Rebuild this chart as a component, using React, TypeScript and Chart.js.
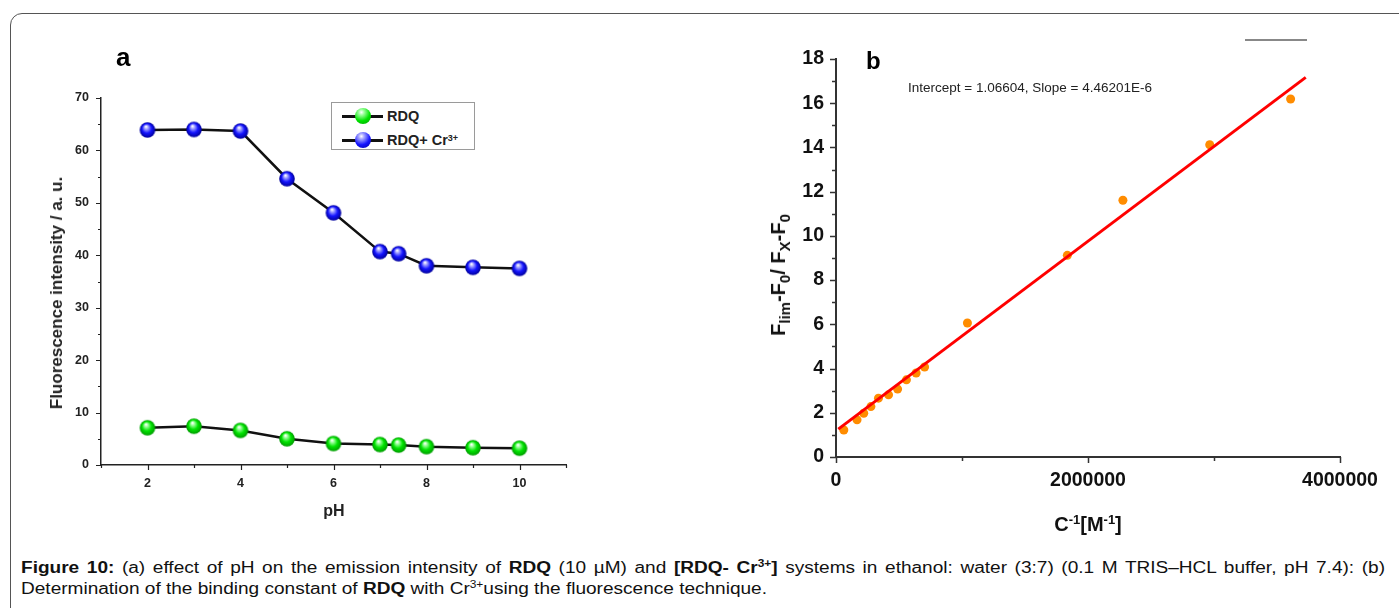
import React, { useEffect, useRef } from 'react';
import { Chart, registerables } from 'chart.js';

Chart.register(...registerables);

// ---------- Panel a data ----------
const phValues = [2, 3, 4, 5, 6, 7, 7.4, 8, 9, 10];
const rdqIntensity = [7.1, 7.4, 6.6, 5.0, 4.1, 3.9, 3.8, 3.5, 3.3, 3.2];
const rdqCrIntensity = [63.9, 64.0, 63.7, 54.6, 48.1, 40.7, 40.3, 38.0, 37.7, 37.5];
const phTickLabels = [2, 4, 6, 8, 10];
const intensityTickLabels = [0, 10, 20, 30, 40, 50, 60, 70];

// ---------- Panel b data ----------
const inverseConc = [62000, 167000, 220000, 277000, 337000, 417000, 489000, 559000, 636000, 703000, 1043000, 1836000, 2277000, 2966000, 3608000];
const fluorRatio = [1.22, 1.68, 1.98, 2.28, 2.66, 2.81, 3.07, 3.49, 3.80, 4.07, 6.06, 9.12, 11.61, 14.12, 16.19];
const fitLineX = [18000, 3728000];
const fitLineY = [1.26, 17.17];
const concTickLabels = [0, 2000000, 4000000];
const ratioTickLabels = [0, 2, 4, 6, 8, 10, 12, 14, 16, 18];

const SANS = "'Liberation Sans', Arial, sans-serif";

function makeBall(r: number, base: string, light: string, dark: string) {
  const c = document.createElement('canvas');
  const s = Math.ceil(r * 2) + 2;
  c.width = s;
  c.height = s;
  const g = c.getContext('2d')!;
  const cx = s / 2, cy = s / 2;
  const grad = g.createRadialGradient(cx - r * 0.2, cy - r * 0.45, r * 0.05, cx, cy, r);
  grad.addColorStop(0, '#ffffff');
  grad.addColorStop(0.2, light);
  grad.addColorStop(0.58, base);
  grad.addColorStop(1, dark);
  g.fillStyle = grad;
  g.beginPath();
  g.arc(cx, cy, r, 0, Math.PI * 2);
  g.fill();
  return c;
}

function makeTickPlugin(xMajor: number[], yMajor: number[], majorLen: number, minorLen: number, color: string, width: number) {
  return {
    id: 'axisTicks',
    afterDraw(chart: any) {
      const { ctx } = chart;
      const xs = chart.scales.x;
      const ys = chart.scales.y;
      ctx.save();
      ctx.strokeStyle = color;
      ctx.lineWidth = width;
      ctx.beginPath();
      xs.ticks.forEach((t: any) => {
        const p = Math.round(xs.getPixelForValue(t.value)) + 0.5;
        const len = xMajor.includes(t.value) ? majorLen : minorLen;
        ctx.moveTo(p, xs.top);
        ctx.lineTo(p, xs.top + len);
      });
      ys.ticks.forEach((t: any) => {
        const p = Math.round(ys.getPixelForValue(t.value)) + 0.5;
        const len = yMajor.includes(t.value) ? majorLen : minorLen;
        ctx.moveTo(ys.right, p);
        ctx.lineTo(ys.right - len, p);
      });
      ctx.stroke();
      ctx.restore();
    },
  };
}

const legendBall = (light: string, base: string, dark: string): React.CSSProperties => ({
  position: 'absolute',
  left: 23,
  top: -8,
  width: 16,
  height: 16,
  borderRadius: '50%',
  background: `radial-gradient(circle at 40% 27%, #ffffff 0%, ${light} 18%, ${base} 56%, ${dark} 100%)`,
});

export default function App() {
  const refA = useRef<HTMLCanvasElement>(null);
  const refB = useRef<HTMLCanvasElement>(null);

  useEffect(() => {
    const greenBall = makeBall(7.8, '#00e400', '#9dff9d', '#009a00');
    const blueBall = makeBall(7.8, '#1414ff', '#a8a8ff', '#00009a');

    const chartA = new Chart(refA.current!, {
      type: 'line',
      data: {
        datasets: [
          {
            label: 'RDQ',
            data: phValues.map((x, i) => ({ x, y: rdqIntensity[i] })),
            borderColor: '#111111',
            borderWidth: 2.5,
            pointStyle: greenBall as any,
            pointRadius: 8,
            tension: 0,
          },
          {
            label: 'RDQ+ Cr3+',
            data: phValues.map((x, i) => ({ x, y: rdqCrIntensity[i] })),
            borderColor: '#111111',
            borderWidth: 2.5,
            pointStyle: blueBall as any,
            pointRadius: 8,
            tension: 0,
          },
        ],
      },
      options: {
        responsive: false,
        animation: false,
        events: [],
        layout: { padding: { left: 40, top: 98, right: 134, bottom: 0 } },
        plugins: { legend: { display: false }, tooltip: { enabled: false } },
        scales: {
          x: {
            type: 'linear',
            min: 1,
            max: 11,
            grid: { display: false, drawTicks: false },
            border: { display: true, color: '#222222', width: 1.5 },
            ticks: {
              stepSize: 1,
              autoSkip: false,
              maxRotation: 0,
              padding: 11,
              color: '#222222',
              font: { family: SANS, size: 12.5, weight: 'bold' },
              callback: (v: any) => (phTickLabels.includes(Number(v)) ? String(v) : ''),
            },
            afterFit: (s: any) => {
              s.height = 75;
            },
          },
          y: {
            min: 0,
            max: 70,
            grid: { display: false, drawTicks: false },
            border: { display: true, color: '#222222', width: 1.5 },
            ticks: {
              stepSize: 5,
              autoSkip: false,
              padding: 12,
              color: '#222222',
              font: { family: SANS, size: 12.5, weight: 'bold' },
              callback: (v: any) => (intensityTickLabels.includes(Number(v)) ? String(v) : ''),
            },
            afterFit: (s: any) => {
              s.width = 61;
            },
          },
        },
      },
      plugins: [makeTickPlugin(phTickLabels, intensityTickLabels, 5, 3, '#222222', 1.2)],
    } as any);

    const chartB = new Chart(refB.current!, {
      type: 'scatter',
      data: {
        datasets: [
          {
            label: 'fit',
            type: 'line',
            data: fitLineX.map((x, i) => ({ x, y: fitLineY[i] })),
            borderColor: '#ff0000',
            borderWidth: 3,
            pointRadius: 0,
            tension: 0,
            order: 1,
          },
          {
            label: 'data',
            data: inverseConc.map((x, i) => ({ x, y: fluorRatio[i] })),
            backgroundColor: '#ff8c00',
            borderWidth: 0,
            pointRadius: 4.5,
            order: 2,
          },
        ],
      },
      options: {
        responsive: false,
        animation: false,
        events: [],
        layout: { padding: { left: 40, top: 59, right: 59, bottom: 0 } },
        plugins: { legend: { display: false }, tooltip: { enabled: false } },
        scales: {
          x: {
            type: 'linear',
            min: 0,
            max: 4000000,
            grid: { display: false, drawTicks: false },
            border: { display: true, color: '#333333', width: 2 },
            ticks: {
              stepSize: 1000000,
              autoSkip: false,
              maxRotation: 0,
              padding: 12,
              color: '#111111',
              font: { family: SANS, size: 19.5, weight: 'bold' },
              callback: (v: any) => (concTickLabels.includes(Number(v)) ? String(v) : ''),
            },
            afterFit: (s: any) => {
              s.height = 83;
            },
          },
          y: {
            min: 0,
            max: 18,
            grid: { display: false, drawTicks: false },
            border: { display: true, color: '#333333', width: 2 },
            ticks: {
              stepSize: 1,
              autoSkip: false,
              padding: 12,
              color: '#111111',
              font: { family: SANS, size: 19.5, weight: 'bold' },
              callback: (v: any) => (ratioTickLabels.includes(Number(v)) ? String(v) : ''),
            },
            afterFit: (s: any) => {
              s.width = 96;
            },
          },
        },
      },
      plugins: [makeTickPlugin(concTickLabels, ratioTickLabels, 6, 4, '#333333', 1.5)],
    } as any);

    return () => {
      chartA.destroy();
      chartB.destroy();
    };
  }, []);

  const abs = (s: React.CSSProperties): React.CSSProperties => ({ position: 'absolute', ...s });
  const CAP_SCALE = 1.19;
  const capSup: React.CSSProperties = { fontSize: 10, lineHeight: 0, verticalAlign: 'super' };

  return (
    <div style={{ position: 'fixed', left: 0, top: 0, width: 1399, height: 608, overflow: 'hidden', background: '#ffffff', fontFamily: SANS }}>
      <div style={abs({ left: 10, top: 13, width: 1440, height: 640, border: '1px solid #555', borderRadius: 12, boxSizing: 'border-box' })} />

      <canvas ref={refA} width={700} height={540} style={abs({ left: 0, top: 0, width: 700, height: 540 })} />
      <canvas ref={refB} width={699} height={540} style={abs({ left: 700, top: 0, width: 699, height: 540 })} />

      {/* panel a annotations */}
      <div style={abs({ left: 116, top: 42, fontWeight: 'bold', fontSize: 26, lineHeight: '30px', color: '#000' })}>a</div>
      <div
        style={abs({
          left: 57,
          top: 293,
          transform: 'translate(-50%, -50%) rotate(-90deg)',
          whiteSpace: 'nowrap',
          fontWeight: 'bold',
          fontSize: 17,
          color: '#222',
        })}
      >
        Fluorescence intensity / a. u.
      </div>
      <div style={abs({ left: 334, top: 511, transform: 'translate(-50%, -50%)', fontWeight: 'bold', fontSize: 16, color: '#222' })}>pH</div>

      {/* legend */}
      <div style={abs({ left: 331, top: 102, width: 144, height: 48, border: '1px solid #9a9a9a', boxSizing: 'border-box', background: '#fff' })}>
        <div style={abs({ left: 0, top: 13, width: 144, height: 0 })}>
          <div style={abs({ left: 10, top: -1, width: 41, height: 2.5, background: '#111' })} />
          <div style={legendBall('#9dff9d', '#00e400', '#009a00')} />
          <div style={abs({ left: 55, top: -9, fontWeight: 'bold', fontSize: 14.5, lineHeight: '18px', color: '#222', whiteSpace: 'nowrap' })}>RDQ</div>
        </div>
        <div style={abs({ left: 0, top: 37, width: 144, height: 0 })}>
          <div style={abs({ left: 10, top: -1, width: 41, height: 2.5, background: '#111' })} />
          <div style={legendBall('#a8a8ff', '#1414ff', '#00009a')} />
          <div style={abs({ left: 55, top: -9, fontWeight: 'bold', fontSize: 14.5, lineHeight: '18px', color: '#222', whiteSpace: 'nowrap' })}>
            RDQ+ Cr<sup style={{ fontSize: 9, verticalAlign: 'top', position: 'relative', top: -2 }}>3+</sup>
          </div>
        </div>
      </div>

      {/* panel b annotations */}
      <div style={abs({ left: 866, top: 47, fontWeight: 'bold', fontSize: 24, lineHeight: '28px', color: '#000' })}>b</div>
      <div style={abs({ left: 908, top: 80, fontSize: 13.5, lineHeight: '16px', color: '#222', whiteSpace: 'nowrap' })}>
        Intercept = 1.06604, Slope = 4.46201E-6
      </div>
      <div style={abs({ left: 1245, top: 39, width: 62, height: 1.5, background: '#888' })} />
      <div
        style={abs({
          left: 780,
          top: 275,
          transform: 'translate(-50%, -50%) rotate(-90deg)',
          whiteSpace: 'nowrap',
          fontWeight: 'bold',
          fontSize: 20,
          color: '#111',
        })}
      >
        F<sub style={{ fontSize: 15 }}>lim</sub>-F<sub style={{ fontSize: 15 }}>0</sub>/ F<sub style={{ fontSize: 15 }}>X</sub>-F<sub style={{ fontSize: 15 }}>0</sub>
      </div>
      <div style={abs({ left: 1088, top: 524, transform: 'translate(-50%, -50%)', whiteSpace: 'nowrap', fontWeight: 'bold', fontSize: 20, color: '#111' })}>
        C<sup style={{ fontSize: 13 }}>-1</sup>[M<sup style={{ fontSize: 13 }}>-1</sup>]
      </div>

      {/* caption */}
      <div
        style={abs({
          left: 21,
          top: 557,
          width: 1364 / CAP_SCALE,
          fontSize: 16,
          lineHeight: '21px',
          color: '#111',
          transform: `scaleX(${CAP_SCALE})`,
          transformOrigin: '0 0',
        })}
      >
        <div style={{ textAlign: 'justify', textAlignLast: 'justify', whiteSpace: 'nowrap', height: 21 } as React.CSSProperties}>
          <b>Figure 10:</b> (a) effect of pH on the emission intensity of <b>RDQ</b> (10 µM) and <b>[RDQ- Cr<sup style={capSup}>3+</sup>]</b> systems in ethanol: water (3:7) (0.1 M TRIS–HCL buffer, pH 7.4): (b)
        </div>
        <div style={{ height: 21 }}>
          Determination of the binding constant of <b>RDQ</b> with Cr<sup style={capSup}>3+</sup>using the fluorescence technique.
        </div>
      </div>
    </div>
  );
}
